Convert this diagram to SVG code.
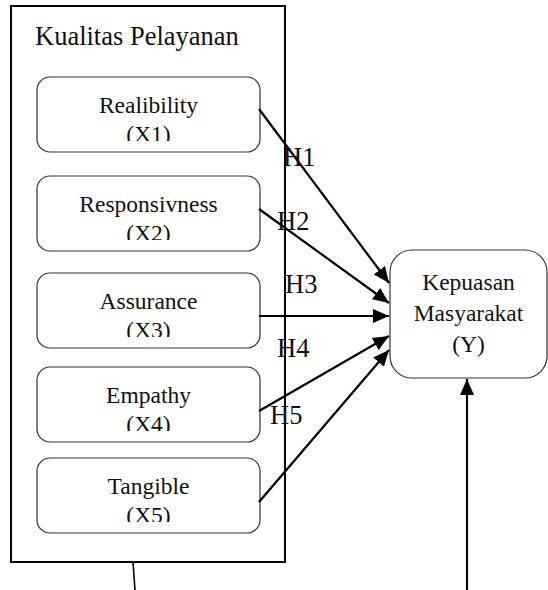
<svg xmlns="http://www.w3.org/2000/svg" width="548" height="590" viewBox="0 0 548 590">
<style>
.t{font-family:"Liberation Serif","Times New Roman",serif;fill:#111;}
.bx{fill:#fff;stroke:#333;stroke-width:1.2;}
.c{stroke:#000;stroke-width:2.2;fill:none;}
.h{font-size:26.5px;}
.n{font-size:23.5px;text-anchor:middle;}
</style>
<defs>
<marker id="ah" markerUnits="userSpaceOnUse" markerWidth="17" markerHeight="14" refX="16" refY="7" orient="auto">
<path d="M0,0 L16,7 L0,14 z" fill="#000"/>
</marker>
<clipPath id="c1"><rect x="37" y="77" width="223" height="64"/></clipPath>
<clipPath id="c2"><rect x="37" y="176" width="223" height="64"/></clipPath>
<clipPath id="c3"><rect x="37" y="273" width="223" height="64"/></clipPath>
<clipPath id="c4"><rect x="37" y="367" width="223" height="64"/></clipPath>
<clipPath id="c5"><rect x="37" y="458" width="223" height="64"/></clipPath>
</defs>
<rect width="548" height="590" fill="#fff"/>
<g id="kualitas">
<rect x="11" y="6" width="274" height="556" fill="none" stroke="#000" stroke-width="2"/>
<text class="t" x="35" y="45" font-size="26.5">Kualitas Pelayanan</text>
</g>
<g id="x1">
<rect class="bx" x="37" y="77" width="223" height="75" rx="13"/>
<g clip-path="url(#c1)"><text class="t n" x="148.5" y="113">Realibility</text><text class="t n" x="148.5" y="142">(X1)</text></g>
</g>
<g id="x2">
<rect class="bx" x="37" y="176" width="223" height="75" rx="13"/>
<g clip-path="url(#c2)"><text class="t n" x="148.5" y="212">Responsivness</text><text class="t n" x="148.5" y="241">(X2)</text></g>
</g>
<g id="x3">
<rect class="bx" x="37" y="273" width="223" height="75" rx="13"/>
<g clip-path="url(#c3)"><text class="t n" x="148.5" y="309">Assurance</text><text class="t n" x="148.5" y="338">(X3)</text></g>
</g>
<g id="x4">
<rect class="bx" x="37" y="367" width="223" height="75" rx="13"/>
<g clip-path="url(#c4)"><text class="t n" x="148.5" y="403">Empathy</text><text class="t n" x="148.5" y="432">(X4)</text></g>
</g>
<g id="x5">
<rect class="bx" x="37" y="458" width="223" height="75" rx="13"/>
<g clip-path="url(#c5)"><text class="t n" x="148.5" y="494">Tangible</text><text class="t n" x="148.5" y="523">(X5)</text></g>
</g>
<g id="y">
<rect class="bx" x="390" y="250" width="157" height="128" rx="22"/>
<text class="t n" x="468.5" y="290">Kepuasan</text>
<text class="t n" x="468.5" y="321">Masyarakat</text>
<text class="t n" x="468.5" y="352">(Y)</text>
</g>
<g id="connectors">
<line class="c" x1="259" y1="109" x2="389" y2="283" marker-end="url(#ah)"/>
<line class="c" x1="259" y1="209" x2="389" y2="303" marker-end="url(#ah)"/>
<line class="c" x1="259" y1="316" x2="389" y2="316" marker-end="url(#ah)"/>
<line class="c" x1="259" y1="411" x2="389" y2="336" marker-end="url(#ah)"/>
<line class="c" x1="259" y1="502" x2="389" y2="350" marker-end="url(#ah)"/>
<line x1="133" y1="562" x2="135" y2="590" stroke="#000" stroke-width="1.6"/>
<line class="c" x1="467" y1="590" x2="467" y2="379" marker-end="url(#ah)"/>
</g>
<g id="labels">
<text class="t h" x="283" y="166">H1</text>
<text class="t h" x="277" y="230">H2</text>
<text class="t h" x="285" y="293">H3</text>
<text class="t h" x="277" y="357">H4</text>
<text class="t h" x="270" y="424">H5</text>
</g>
</svg>
